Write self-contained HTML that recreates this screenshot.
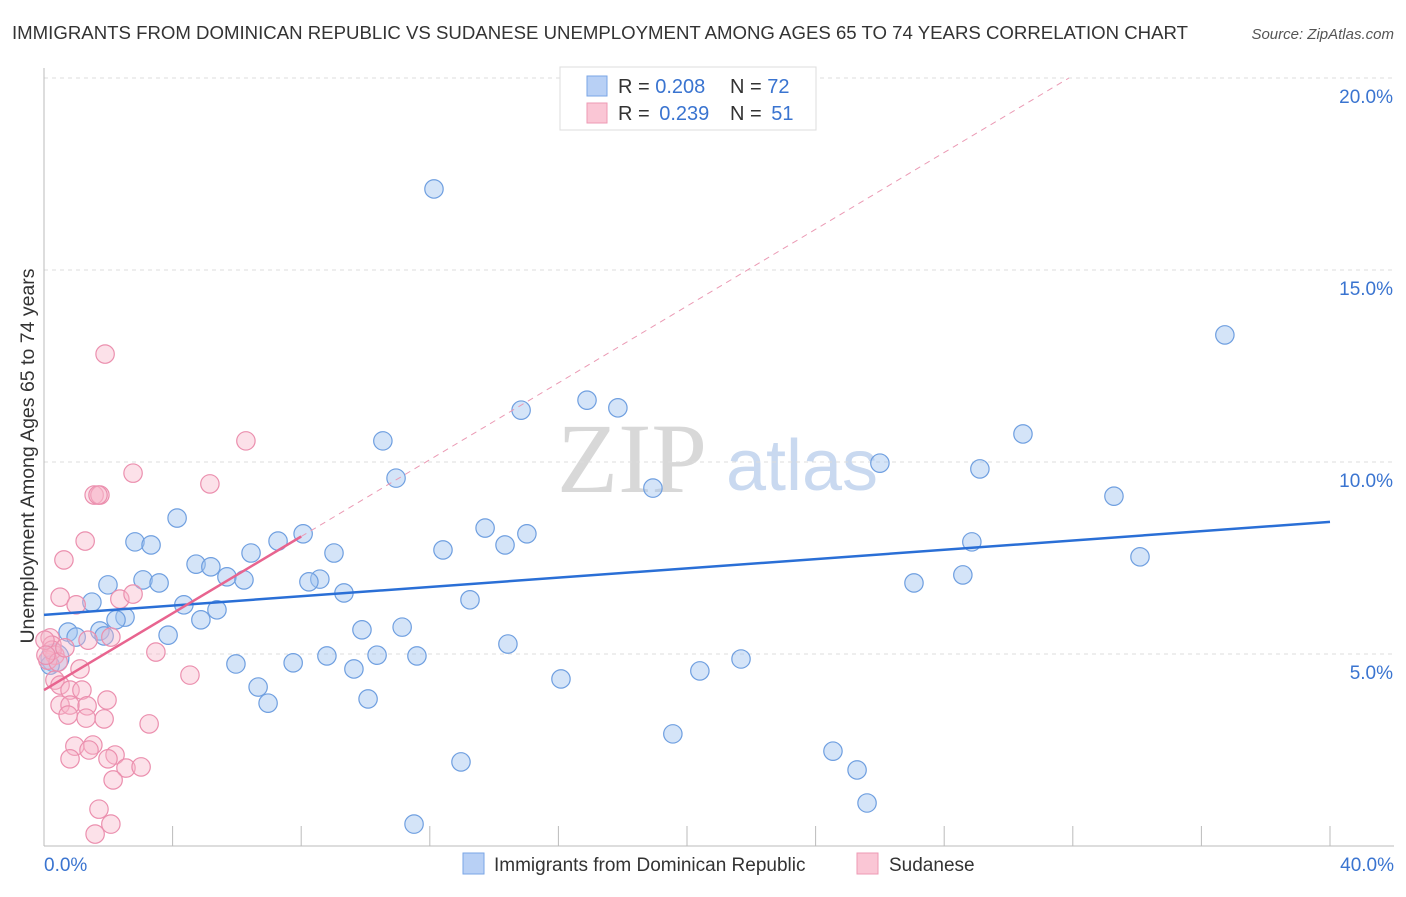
<!DOCTYPE html>
<html><head><meta charset="utf-8"><style>
body{margin:0;background:#fff;font-family:"Liberation Sans",sans-serif;}
svg text{font-family:"Liberation Sans",sans-serif;}
</style></head><body>
<svg id="chart" width="1406" height="892" xmlns="http://www.w3.org/2000/svg">
<text x="12" y="39" font-size="18" fill="#333" textLength="1176" lengthAdjust="spacingAndGlyphs">IMMIGRANTS FROM DOMINICAN REPUBLIC VS SUDANESE UNEMPLOYMENT AMONG AGES 65 TO 74 YEARS CORRELATION CHART</text>
<text x="1394" y="39" font-size="15" fill="#555" text-anchor="end" font-style="italic">Source: ZipAtlas.com</text>
<g>
<text x="632" y="492" font-size="100" fill="#d8d8d8" text-anchor="middle" style="font-family:'Liberation Serif',serif">ZIP</text>
<text x="802" y="490" font-size="72" fill="#c9d9f0" text-anchor="middle">atlas</text>
</g>
<g id="grid"></g>
<g id="axes"></g>
<g id="marks"></g>
<text transform="translate(34,456) rotate(-90)" font-size="19.5" fill="#333" text-anchor="middle">Unemployment Among Ages 65 to 74 years</text>
<g>
<rect x="560" y="67" width="256" height="63" fill="#fff" stroke="#ddd"/>
<rect x="587" y="76" width="20" height="20" fill="#b8d0f5" stroke="#7aa6e6"/>
<rect x="587" y="103" width="20" height="20" fill="#fac6d5" stroke="#ee9ab4"/>
<text x="618" y="93" font-size="20" fill="#333">R = <tspan fill="#3a74d0">0.208</tspan><tspan x="730">N = </tspan><tspan fill="#3a74d0">72</tspan></text>
<text x="618" y="120" font-size="20" fill="#333">R = <tspan fill="#3a74d0" dx="4">0.239</tspan><tspan x="730">N = </tspan><tspan fill="#3a74d0" dx="4">51</tspan></text>
</g>
<g>
<rect x="463" y="853" width="21" height="21" fill="#b8d0f5" stroke="#7aa6e6"/>
<text x="494" y="871" font-size="19" fill="#333">Immigrants from Dominican Republic</text>
<rect x="857" y="853" width="21" height="21" fill="#fac6d5" stroke="#ee9ab4"/>
<text x="889" y="871" font-size="19" fill="#333">Sudanese</text>
</g>
</svg>
<script>
const blueX=[12.13,36.73,16.89,17.85,14.84,10.54,30.45,26.00,29.11,10.95,18.94,33.28,4.14,13.72,8.06,15.02,14.34,2.83,3.33,7.28,6.44,12.41,9.02,28.86,34.09,4.73,5.19,5.69,6.22,3.08,3.58,8.58,8.24,1.99,28.58,27.06,9.33,13.25,1.49,4.35,5.38,2.52,4.88,2.24,1.74,0.75,1.00,1.87,3.86,9.89,11.14,14.43,8.80,10.36,11.60,7.75,5.97,9.64,21.68,20.40,16.08,6.66,10.08,6.97,19.56,24.54,25.29,12.97,25.60,11.51,0.34,0.19];
const blueY=[17.11,13.31,11.61,11.41,11.35,10.55,10.73,9.97,9.82,9.58,9.32,9.11,8.54,8.28,8.13,8.13,7.84,7.92,7.84,7.94,7.63,7.71,7.63,7.92,7.53,7.34,7.27,7.01,6.93,6.93,6.85,6.95,6.88,6.80,7.06,6.85,6.59,6.41,6.35,6.28,6.15,5.96,5.89,5.89,5.60,5.57,5.44,5.47,5.49,5.63,5.70,5.26,4.95,4.97,4.95,4.77,4.74,4.61,4.87,4.56,4.35,4.14,3.83,3.72,2.92,2.47,1.98,2.19,1.12,0.57,4.90,4.71];
const pinkX=[1.90,6.28,2.77,5.16,1.56,1.74,1.68,1.28,0.62,0.50,1.00,2.36,2.77,0.19,0.25,1.37,2.08,3.48,0.34,0.12,1.12,4.54,0.34,0.50,0.81,1.18,1.96,0.50,0.81,1.34,0.75,1.31,1.87,3.27,0.96,1.52,1.40,2.21,0.81,1.99,2.55,3.02,2.15,1.71,2.08,1.59,0.25,0.44,0.03,0.65,0.06];
const pinkY=[12.81,10.55,9.71,9.43,9.14,9.14,9.14,7.94,7.45,6.48,6.28,6.43,6.56,5.42,5.23,5.36,5.44,5.05,4.97,4.84,4.61,4.45,4.32,4.19,4.06,4.06,3.80,3.67,3.67,3.65,3.41,3.33,3.31,3.18,2.60,2.63,2.50,2.37,2.27,2.27,2.03,2.06,1.72,0.96,0.57,0.31,5.10,4.79,5.36,5.16,4.97];
const blueTrend=[6.02,8.44]; // y at x=0 and x=40
const pinkTrend=[4.06,0.5];  // intercept, slope
const yTicks=[5,10,15,20];
const xTickLabels=["0.0%","40.0%"];
const X=v=>44+v/40*1286, Y=v=>846-v*38.4;
const NS="http://www.w3.org/2000/svg";
function mk(p,t,a){const e=document.createElementNS(NS,t);for(const k in a)e.setAttribute(k,a[k]);p.appendChild(e);return e;}
const grid=document.getElementById('grid'),axes=document.getElementById('axes'),marks=document.getElementById('marks');
yTicks.forEach(t=>{
 const l=mk(grid,'line',{x1:44,x2:1394,y1:Y(t),y2:Y(t),stroke:'#ddd','stroke-dasharray':'4,4'});
 
 
 const tx=mk(axes,'text',{x:1393,y:Y(t)+25,'font-size':19,fill:'#3a74d0','text-anchor':'end'});
 tx.textContent=t.toFixed(1)+'%';
 
 
});
const ax=mk(axes,'line',{x1:44,x2:1394,y1:846,y2:846,stroke:'#bbb'});


const ay=mk(axes,'line',{x1:44,x2:44,y1:68,y2:846,stroke:'#bbb'});


for(let i=1;i<=10;i++){const t=mk(axes,'line',{x1:X(i*4),x2:X(i*4),y1:826,y2:846,stroke:'#bbb'});
 
 }
[[0,'start',44],[40,'end',1394]].forEach((d,i)=>{const t=mk(axes,'text',{x:d[2],y:871,'font-size':19,fill:'#3a74d0','text-anchor':d[1]});t.textContent=xTickLabels[i];
 
 });
blueX.forEach((x,i)=>{const c=mk(marks,'circle',{cx:X(x),cy:Y(blueY[i]),r:(i==70?14:9.2),fill:'rgba(160,195,240,0.45)',stroke:'#6f9fe0','stroke-width':1.2});
 
 });
pinkX.forEach((x,i)=>{const c=mk(marks,'circle',{cx:X(x),cy:Y(pinkY[i]),r:9.2,fill:'rgba(248,180,200,0.4)',stroke:'#eb8fae','stroke-width':1.2});
 
 });
const bl=mk(marks,'line',{x1:X(0),y1:Y(blueTrend[0]),x2:X(40),y2:Y(blueTrend[1]),stroke:'#2a6fd6','stroke-width':2.5});


const xe=(20-pinkTrend[0])/pinkTrend[1];
const pd=mk(marks,'line',{x1:X(8),y1:Y(pinkTrend[0]+8*pinkTrend[1]),x2:X(xe),y2:Y(20),stroke:'#eb9ab4','stroke-width':1,'stroke-dasharray':'6,5'});


const pl=mk(marks,'line',{x1:X(0),y1:Y(pinkTrend[0]),x2:X(8),y2:Y(pinkTrend[0]+8*pinkTrend[1]),stroke:'#e8648f','stroke-width':2.5});


</script>
</body></html>
